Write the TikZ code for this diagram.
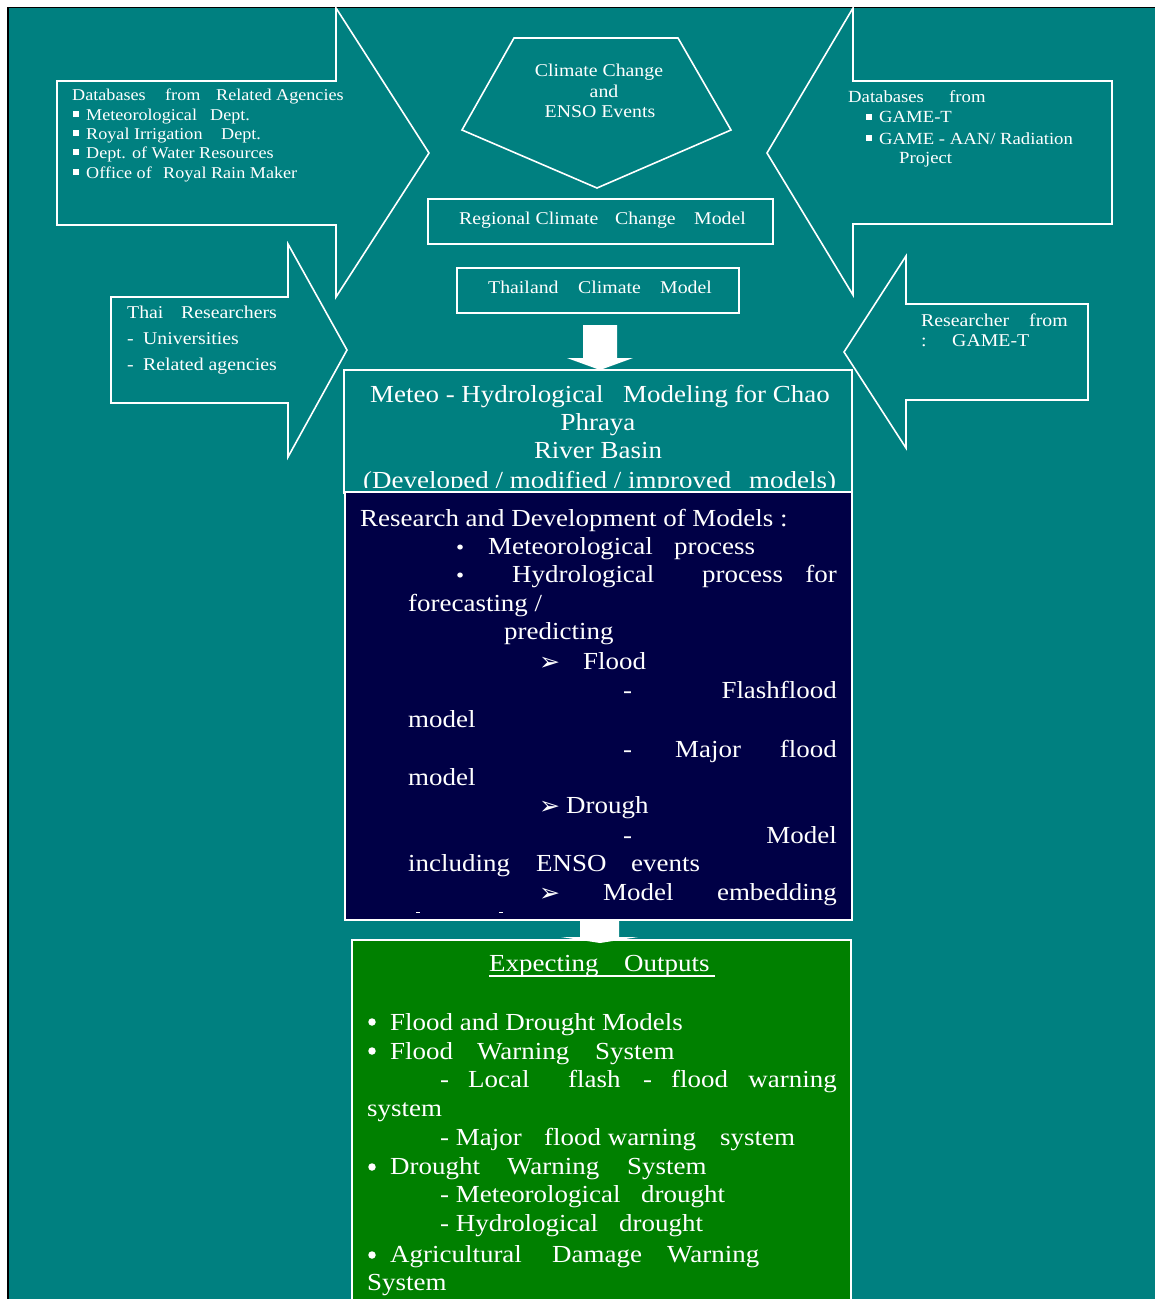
\documentclass[tikz,border=0pt]{standalone}
\usepackage{fontspec}
\setmainfont[FakeStretch=1.1]{Liberation Serif}
\newfontfamily\symfont{DejaVu Sans}
\definecolor{teal0}{RGB}{0,128,128}
\definecolor{navy0}{RGB}{0,0,70}
\definecolor{green0}{RGB}{0,128,0}
\newcommand\szS{\fontsize{16.5}{19}\selectfont}
\newcommand\szR{\fontsize{17}{20}\selectfont}
\newcommand\szT{\fontsize{18}{21}\selectfont}
\newcommand\szL{\fontsize{24.5}{29}\selectfont}
\newcommand\arr{{\symfont\fontsize{25}{27}\selectfont ➢}}
\newcommand\sbul{{\fontsize{21}{23}\selectfont •}}
\begin{document}
\begin{tikzpicture}[x=1pt,y=-1pt,
  outl/.style={draw=white, line width=1.6pt, line join=miter},
  tw/.style={text=white, inner sep=0pt, anchor=base west},
  te/.style={text=white, inner sep=0pt, anchor=base east},
  tc/.style={text=white, inner sep=0pt, anchor=base},
  boxw/.style={draw=white, line width=1.6pt, inner sep=0pt},
  dotb/.style={circle, fill=white, inner sep=0pt, minimum size=7.5pt},
]
\useasboundingbox (0,0) rectangle (1155,1299);
\clip (0,0) rectangle (1155,1299);
\fill[white] (0,0) rectangle (1155,1299);
\draw[fill=teal0, draw=black, line width=1.3pt] (8,7.5) rectangle (1175,1320);

% big arrows
\draw[outl] (57,81) -- (336,81) -- (336,8) -- (429,153) -- (336,297) -- (336,225) -- (57,225) -- cycle;
\draw[outl] (1112,81) -- (853,81) -- (853,8) -- (767,153) -- (853,295) -- (853,224) -- (1112,224) -- cycle;
% pentagon
\draw[outl] (514,38) -- (678,38) -- (731,130) -- (597,188) -- (462,130) -- cycle;
% small arrows
\draw[outl] (111,297) -- (288,297) -- (288,244) -- (347,350) -- (288,457) -- (288,403) -- (111,403) -- cycle;
\draw[outl] (1088,304) -- (906,304) -- (906,256) -- (844,352) -- (906,448) -- (906,400) -- (1088,400) -- cycle;

% boxes
\node[boxw, minimum width=345, minimum height=45] (rccm) at (600.5,221.5) {};
\node[boxw, minimum width=282, minimum height=45] (tcm) at (598,290.5) {};
\node[boxw, fill=teal0, minimum width=508, minimum height=123] (meteo) at (598,431.5) {};
\node[boxw, fill=navy0, minimum width=507, minimum height=428] (rnd) at (598.5,706) {};
\node[boxw, fill=green0, minimum width=499, minimum height=380] (outp) at (601.5,1130) {};

% block arrows
\fill[white] (583,325) -- (617,325) -- (617,358) -- (633,358) -- (600,370) -- (567,358) -- (583,358) -- cycle;
\fill[white] (580,919) -- (619,919) -- (619,937) -- (638,937) -- (600,943) -- (561,937) -- (580,937) -- cycle;

% left big arrow text
\node[tw] (a1) at (72,100) {\szS Databases};
\node[tw] (a2) at (165,100) {\szS from};
\node[tw] (a3) at (216,100) {\szS Related Agencies};
\fill[white] (73,111) rectangle (79,117);
\fill[white] (73,130) rectangle (79,136);
\fill[white] (73,149) rectangle (79,155);
\fill[white] (73,169) rectangle (79,175);
\node[tw] (a4) at (86,120) {\szS Meteorological};
\node[tw] (a5) at (210,120) {\szS Dept.};
\node[tw] (a6) at (86,139) {\szS Royal Irrigation};
\node[tw] (a7) at (221,139) {\szS Dept.};
\node[tw] (a8) at (86,158) {\szS Dept. of Water Resources};
\node[tw] (a9) at (86,178) {\szS Office of};
\node[tw] (a10) at (163,178) {\szS Royal Rain Maker};

% pentagon text
\node[tc] (p1) at (599,76) {\szT Climate Change};
\node[tc] (p2) at (604,97) {\szT and};
\node[tc] (p3) at (600,117) {\szT ENSO Events};

% regional / thailand
\node[tw] (r1) at (459,224) {\szT Regional Climate};
\node[tw] (r2) at (615,224) {\szT Change};
\node[tw] (r3) at (694,224) {\szT Model};
\node[tw] (h1) at (488,293) {\szT Thailand};
\node[tw] (h2) at (578,293) {\szT Climate};
\node[tw] (h3) at (660,293) {\szT Model};

% right big arrow text
\node[tw] (b1) at (848,102) {\szR Databases};
\node[tw] (b2) at (949,102) {\szR from};
\fill[white] (866,114) rectangle (872,120);
\fill[white] (866,135) rectangle (872,141);
\node[tw] (b3) at (879,122) {\szR GAME-T};
\node[tw] (b4) at (879,144) {\szR GAME - AAN/ Radiation};
\node[tw] (b5) at (899,163) {\szR Project};

% thai researchers
\node[tw] (c1) at (127,318) {\szT Thai};
\node[tw] (c2) at (181,318) {\szT Researchers};
\node[tw] (c3) at (127,344) {\szT -};
\node[tw] (c4) at (143,344) {\szT Universities};
\node[tw] (c5) at (127,370) {\szT -};
\node[tw] (c6) at (143,370) {\szT Related agencies};

% researcher from game-t
\node[tw] (d1) at (921,326) {\szT Researcher};
\node[tw] (d2) at (1029,326) {\szT from};
\node[tw] (d3) at (921,346) {\szT :};
\node[tw] (d4) at (952,346) {\szT GAME-T};

% meteo text
\begin{scope}
\clip (345,371) rectangle (851,487);
\node[tw] (m1) at (370,402) {\szL Meteo - Hydrological};
\node[tw] (m2) at (623,402) {\szL Modeling for Chao};
\node[tc] (m3) at (598,430) {\szL Phraya};
\node[tc] (m4) at (598,458) {\szL River Basin};
\node[tw] (m5) at (363,488) {\szL (Developed / modified / improved};
\node[tw] (m6) at (749,488) {\szL models)};
\end{scope}

% research and development text
\node[tw] (q1) at (360,526) {\szL Research and Development of Models :};
\node[tw] (q2) at (456,554) {\sbul};
\node[tw] (q3) at (488,554) {\szL Meteorological};
\node[tw] (q4) at (674,554) {\szL process};
\node[tw] (q5) at (456,582) {\sbul};
\node[tw] (q6) at (512,582) {\szL Hydrological};
\node[tw] (q7) at (702,582) {\szL process};
\node[te] (q8) at (837,582) {\szL for};
\node[tw] (q9) at (408,611) {\szL forecasting /};
\node[tw] (q10) at (504,639) {\szL predicting};
\node[tw] (q11) at (539,670) {\arr};
\node[tw] (q12) at (583,669) {\szL Flood};
\node[tw] (q13) at (623,698) {\szL -};
\node[te] (q14) at (837,698) {\szL Flashflood};
\node[tw] (q15) at (408,727) {\szL model};
\node[tw] (q16) at (623,757) {\szL -};
\node[tw] (q17) at (675,757) {\szL Major};
\node[te] (q18) at (837,757) {\szL flood};
\node[tw] (q19) at (408,785) {\szL model};
\node[tw] (q20) at (539,814) {\arr};
\node[tw] (q21) at (566,813) {\szL Drough};
\node[tw] (q22) at (623,843) {\szL -};
\node[te] (q23) at (837,843) {\szL Model};
\node[tw] (q24) at (408,871) {\szL including};
\node[tw] (q25) at (536,871) {\szL ENSO};
\node[tw] (q26) at (631,871) {\szL events};
\node[tw] (q27) at (539,901) {\arr};
\node[tw] (q28) at (603,900) {\szL Model};
\node[te] (q29) at (837,900) {\szL embedding};
\fill[white] (416,911.5) rectangle (420,913);
\fill[white] (499,911.5) rectangle (503,913);

% outputs text
\node[tw] (o1) at (489,971) {\szL Expecting};
\node[tw] (o2) at (624,971) {\szL Outputs};
\draw[white, line width=1.3pt] (489,976) -- (715,976);
\node[dotb] (o3) at (372,1022) {};
\node[tw] (o4) at (390,1030) {\szL Flood and Drought Models};
\node[dotb] (o5) at (372,1051) {};
\node[tw] (o6) at (390,1059) {\szL Flood};
\node[tw] (o7) at (477,1059) {\szL Warning};
\node[tw] (o8) at (595,1059) {\szL System};
\node[tw] (o9) at (440,1087) {\szL -};
\node[tw] (o10) at (468,1087) {\szL Local};
\node[tw] (o11) at (568,1087) {\szL flash};
\node[tw] (o12) at (643,1087) {\szL -};
\node[tw] (o13) at (671,1087) {\szL flood};
\node[te] (o14) at (837,1087) {\szL warning};
\node[tw] (o15) at (367,1116) {\szL system};
\node[tw] (o16) at (440,1145) {\szL - Major};
\node[tw] (o17) at (544,1145) {\szL flood warning};
\node[tw] (o18) at (720,1145) {\szL system};
\node[dotb] (o19) at (372,1167) {};
\node[tw] (o20) at (390,1174) {\szL Drought};
\node[tw] (o21) at (507,1174) {\szL Warning};
\node[tw] (o22) at (627,1174) {\szL System};
\node[tw] (o23) at (440,1202) {\szL - Meteorological};
\node[tw] (o24) at (641,1202) {\szL drought};
\node[tw] (o25) at (440,1231) {\szL - Hydrological};
\node[tw] (o26) at (619,1231) {\szL drought};
\node[dotb] (o27) at (372,1255) {};
\node[tw] (o28) at (390,1262) {\szL Agricultural};
\node[tw] (o29) at (552,1262) {\szL Damage};
\node[tw] (o30) at (667,1262) {\szL Warning};
\node[tw] (o31) at (367,1290) {\szL System};
\end{tikzpicture}
\end{document}
